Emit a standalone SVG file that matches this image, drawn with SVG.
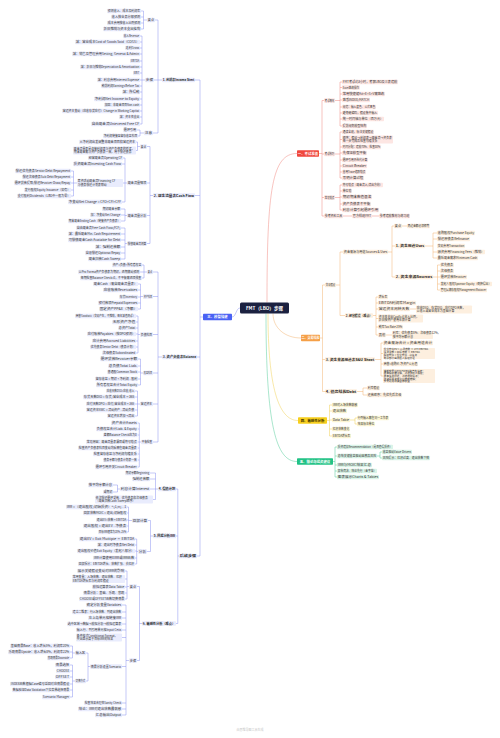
<svg xmlns="http://www.w3.org/2000/svg" width="500" height="738" viewBox="0 0 500 738">
<style>
.t{font-family:"Noto Sans CJK SC","Noto Sans",sans-serif;font-size:2.9px;fill:#333}
.tb{font-family:"Noto Sans CJK SC","Noto Sans",sans-serif;font-size:3px;font-weight:bold;fill:#222}
.m{font-size:2.6px}
.lb{fill:#e9ecfd}.lr{fill:#fde6e3}.lo{fill:#fdefdf}.ly{fill:#fcf5d3}.lg{fill:#daf4e8}
rect{rx:0.8px}
.c{fill:none;stroke-width:0.45}
.cb{stroke:#7d87ef}.cr{stroke:#f07c72}.co{stroke:#f2ad62}.cy{stroke:#efcc40}.cg{stroke:#41c690}
.rt{font-family:"Noto Sans CJK SC","Noto Sans",sans-serif;font-size:3.4px;font-weight:bold;text-anchor:middle}
</style>
<rect x="0" y="0" width="500" height="738" fill="#ffffff" style="rx:0"/>
<g id="connectors">
<path class="c cb" d="M232 317C236 317 236 308 240 308 M203 317H200 M200 80V556 M195 80H200 M195 195.5H200 M197 357H200 M197 556H200
M162 80H158 M158 20V133 M155 20H158 M154 80H158 M153 133H158
M147 20H143.5 M143.5 11V29 M141 11H143.5 M141 17H143.5 M141 23H143.5 M141 29H143.5
M145 80H142 M142 36V124 M140 36H142 M140 42H142 M140 48H142 M140 54H142 M140 61H142 M140 67H142 M140 73H142 M140 80H142 M140 86H142 M140 92H142 M140 99H142 M140 105H142 M140 111H142 M140 117H142 M140 124H142
M144 133H140 M140 130V136 M137 130H140 M138 136H140
M153 195.5H150 M150 146.5V243.5 M147 146.5H150 M147 183H150 M147 215.5H150 M147 243.5H150
M140 146.5H137.5 M137.5 142V150.5 M136 142H137.5 M136 150.5H137.5
M127 183H125 M125 158V202 M123 158H125 M122 164H125 M123 183H125 M122 202H125
M77 183H73.5 M73.5 171V196 M71 171H73.5 M71 177H73.5 M71 183H73.5 M71 190H73.5 M71 196H73.5
M127 215.5H125 M125 209V221 M121 209H125 M121 215H125 M121 221H125
M127 243.5H125 M125 228V259 M121 228H125 M121 234H125 M121 240H125 M121 247H125 M121 253H125 M121 259H125
M162 357H158 M158 272V442 M153 272H158 M153 296.5H158 M153 334.5H158 M153 373H158 M153 404H158 M153 442H158
M147 272H144 M144 265V278 M142 265H144 M140 272H144 M142 278H144
M143 296.5H140.5 M140.5 284V309 M138 284H140.5 M138 290H140.5 M138 297H140.5 M138 303H140.5 M138 309H140.5
M140 334.5H138 M138 316V353 M136 316H138 M136 322H138 M136 328H138 M136 334H138 M136 341H138 M136 347H138 M136 353H138
M143 373H140.5 M140.5 359V385 M138 359H140.5 M138 366H140.5 M138 372H140.5 M138 379H140.5 M138 385H140.5
M140 404H137.5 M137.5 391V416 M135 391H137.5 M135 397H137.5 M135 404H137.5 M135 410H137.5 M135 416H137.5
M141 442H139.3 M139.3 423V467 M137.5 423H139.3 M137.5 429H139.3 M137.5 435H139.3 M137.5 442H139.3 M137.5 448H139.3 M137.5 454H139.3 M137.5 460H139.3 M137.5 467H139.3
M179 556H177.8 M177.8 489V623.5 M176 489H177.8 M176 536H177.8 M176 623.5H177.8
M158 489H155.5 M155.5 473V499.5 M150 473H155.5 M150 479H155.5 M150 489H155.5 M153 499.5H155.5
M120 489H117.5 M117.5 485V492 M113 485H117.5 M113 492H117.5
M153 536H150.5 M150.5 520.5V551.5 M148 520.5H150.5 M147 551.5H150.5
M132 520.5H128.5 M128.5 507V532 M127 507H128.5 M127 513H128.5 M127 520H128.5 M127 526H128.5 M127 532H128.5
M138 551.5H136.7 M136.7 539V564 M135 539H136.7 M135 545H136.7 M135 551H136.7 M135 558H136.7 M135 564H136.7
M142 623.5H139.5 M139.5 586.5V660.5 M137 586.5H139.5 M137 660.5H139.5
M129 586.5H127 M127 571V599 M125 571H127 M125 579H127 M125 587H127 M125 593H127 M125 599H127
M129 660.5H126 M126 605V715 M122 605H126 M122 612H126 M122 618H126 M122 624H126 M122 630H126 M122 637.5H126 M122 666.5H126 M122 703H126 M122 709H126 M122 715H126
M90 666.5H88 M88 653V681 M86 653H88 M86 681H88
M75 653H72.5 M72.5 646V658 M70 646H72.5 M70 652H72.5 M70 658H72.5
M75 681H72.5 M72.5 665V697 M70 665H72.5 M70 671H72.5 M70 677H72.5 M70 684H72.5 M70 690H72.5 M70 697H72.5"/>
<path class="c cr" d="M267 302.5C267 190 272 153.5 297 153.5 M319 153.5H322 M322 100.5V216 M322 100.5H324 M322 154H324 M322 197.5H324 M322 216H324
M335 100.5H340 M340 82V126 M340 82H342 M340 87.5H342 M340 94H342 M340 100H342 M340 107H342 M340 113H342 M340 119H342 M340 126H342
M335 154H340 M340 132V178 M340 132H342 M340 139.5H342 M340 147H342 M340 153H342 M340 160H342 M340 166H342 M340 172H342 M340 178H342
M335 197.5H340 M340 185V210 M340 185H342 M340 191H342 M340 197H342 M340 204H342 M340 210H342
M343 216H352 M372 216H379"/>
<path class="c co" d="M273 313.5C273 328 285 338 301 338 M320 338H322.5 M322.5 285V391.5 M322.5 285H325 M322.5 359.5H325 M322.5 391.5H325
M336 285H340 M340 252V315.5 M340 252H343 M340 315.5H345
M388 252H392 M392 226V277 M392 226H394 M392 246H395 M392 277H395 M402 226H407
M425 246H433 M433 233V258 M433 233H437 M433 239H437 M433 252H437 M433 258H437
M433 277H437.5 M437.5 265V290 M437.5 265H440 M437.5 271H440 M437.5 277H440 M437.5 284H440 M437.5 290H440
M373 315.5H376 M376 297V335 M376 297H378 M376 303H378 M376 309H378 M376 318.5H378 M376 327H378 M376 335H378 M410 309H416 M386 335H392
M375 359.5H381 M381 343V376 M381 343H383 M381 353.5H383 M381 364H383 M381 376H383
M357 391.5H363 M363 388V395 M363 388H367 M363 395H367"/>
<path class="c cy" d="M268 313.5C268 385 278 420.5 298 420.5 M327 420.5H329.5 M329.5 405V436 M329.5 405H332 M329.5 411H332 M329.5 420H332 M329.5 429H332 M329.5 436H332 M350 420H355 M355 418V424 M355 418H357 M355 424H357"/>
<path class="c cg" d="M266 313.5C266 425 276 461.5 297 461.5 M333 461.5H335 M335 447V477 M335 447H337 M335 456H337 M335 465H337 M335 471H337 M335 477H337 M377 456H380 M380 452V458 M380 452H382 M380 458H382"/>
</g>

<g id="center"><rect x="240" y="302.5" width="49" height="11" fill="#1b2140" style="rx:1.5px"/><text x="264.5" y="309.6" text-anchor="middle" font-family="Noto Sans CJK SC, Noto Sans, sans-serif" font-size="4.6" font-weight="bold" fill="#fff">FMT（LBO）步骤</text></g>

<g id="b0"><rect x="203" y="313.7" width="29" height="6.6" fill="#4a62f4"/><text class="rt" x="217.5" y="318.3" fill="#fff">三、模型搭建</text></g>
<g id="r0"><rect x="297" y="150.2" width="22" height="6.6" fill="#f0473d"/><text class="rt" x="308" y="154.8" fill="#fff">一、考试准备</text></g>
<g id="o0"><rect x="301" y="334.7" width="19" height="6.6" fill="#f5a048"/><text class="rt" x="310.5" y="339.2" fill="#fff" style="font-size:3px">二、交易结构</text></g>
<g id="y0"><rect x="298" y="417.2" width="29" height="6.6" fill="#f7cf1e"/><text class="rt" x="312.5" y="421.8" fill="#3a2f00">四、敏感性分析</text></g>
<g id="g0"><rect x="297" y="458.2" width="36" height="6.6" fill="#22c285"/><text class="rt" x="315" y="462.8" fill="#fff">五、结论与投资建议</text></g>

<g id="b1"><rect class="lb" x="162" y="77.7" width="33" height="4.6"/><text class="tb" x="162.8" y="81" textLength="31.4" lengthAdjust="spacingAndGlyphs">1. 利润表Income Stmt</text></g>
<g id="b1a"><rect class="lb" x="147" y="17.7" width="8" height="4.6"/><text class="t" x="147.8" y="21" textLength="6.4" lengthAdjust="spacingAndGlyphs">要点</text></g>
<g id="b1b"><rect class="lb" x="145" y="77.7" width="9" height="4.6"/><text class="t" x="145.8" y="81" textLength="7.4" lengthAdjust="spacingAndGlyphs">步骤</text></g>
<g id="b1c"><rect class="lb" x="144" y="130.7" width="9" height="4.6"/><text class="t" x="144.8" y="134" textLength="7.4" lengthAdjust="spacingAndGlyphs">注意</text></g>
<g id="b1a1"><rect class="lb" x="107" y="8.7" width="34" height="4.6"/><text class="t" x="107.8" y="12" textLength="32.4" lengthAdjust="spacingAndGlyphs">预测收入、成本及利润率</text></g>
<g id="b1a2"><rect class="lb" x="111" y="14.7" width="30" height="4.6"/><text class="t" x="111.8" y="18" textLength="28.4" lengthAdjust="spacingAndGlyphs">收入按业务分部预测</text></g>
<g id="b1a3"><rect class="lb" x="107" y="20.7" width="34" height="4.6"/><text class="t" x="107.8" y="24" textLength="32.4" lengthAdjust="spacingAndGlyphs">成本费用按收入比例预测</text></g>
<g id="b1a4"><rect class="lb" x="103" y="26.7" width="38" height="4.6"/><text class="t" x="103.8" y="30" textLength="36.4" lengthAdjust="spacingAndGlyphs">折旧摊销与资本支出挂钩</text></g>
<g id="b1b1"><rect class="lb" x="123" y="33.7" width="17" height="4.6"/><text class="t" x="123.8" y="37" textLength="15.4" lengthAdjust="spacingAndGlyphs">收入Revenue</text></g>
<g id="b1b2"><rect class="lb" x="75" y="39.7" width="65" height="4.6"/><text class="t" x="75.8" y="43" textLength="63.4" lengthAdjust="spacingAndGlyphs">减：营业成本Cost of Goods Sold（COGS）</text></g>
<g id="b1b3"><rect class="lb" x="125" y="45.7" width="15" height="4.6"/><text class="t" x="125.8" y="49" textLength="13.4" lengthAdjust="spacingAndGlyphs">毛利Gross</text></g>
<g id="b1b4"><rect class="lb" x="72" y="51.7" width="68" height="4.6"/><text class="t" x="72.8" y="55" textLength="66.4" lengthAdjust="spacingAndGlyphs">减：销售及管理费用Selling, General &amp; Admin</text></g>
<g id="b1b5"><rect class="lb" x="130" y="58.7" width="10" height="4.6"/><text class="t" x="130.8" y="62" textLength="8.4" lengthAdjust="spacingAndGlyphs">EBITDA</text></g>
<g id="b1b6"><rect class="lb" x="80" y="64.7" width="60" height="4.6"/><text class="t" x="80.8" y="68" textLength="58.4" lengthAdjust="spacingAndGlyphs">减：折旧与摊销Depreciation &amp; Amortization</text></g>
<g id="b1b7"><rect class="lb" x="133" y="70.7" width="7" height="4.6"/><text class="t" x="133.8" y="74" textLength="5.4" lengthAdjust="spacingAndGlyphs">EBIT</text></g>
<g id="b1b8"><rect class="lb" x="97" y="77.7" width="43" height="4.6"/><text class="t" x="97.8" y="81" textLength="41.4" lengthAdjust="spacingAndGlyphs">减：利息费用Interest Expense</text></g>
<g id="b1b9"><rect class="lb" x="101" y="83.7" width="39" height="4.6"/><text class="t" x="101.8" y="87" textLength="37.4" lengthAdjust="spacingAndGlyphs">税前利润Earnings Before Tax</text></g>
<g id="b1b10"><rect class="lb" x="122" y="89.7" width="18" height="4.6"/><text class="t" x="122.8" y="93" textLength="16.4" lengthAdjust="spacingAndGlyphs">减：所得税</text></g>
<g id="b1b11"><rect class="lb" x="94" y="96.7" width="46" height="4.6"/><text class="t" x="94.8" y="100" textLength="44.4" lengthAdjust="spacingAndGlyphs">净利润Net Income to Equity</text></g>
<g id="b1b12"><rect class="lb" x="104" y="102.7" width="36" height="4.6"/><text class="t" x="104.8" y="106" textLength="34.4" lengthAdjust="spacingAndGlyphs">加回：非现金项目Non-cash</text></g>
<g id="b1b13"><rect class="lb" x="62" y="108.7" width="78" height="4.6"/><text class="t" x="62.8" y="112" textLength="76.4" lengthAdjust="spacingAndGlyphs">营运资本变动（应收存货应付）Change in Working Capital</text></g>
<g id="b1b14"><rect class="lb" x="119" y="114.7" width="21" height="4.6"/><text class="t" x="119.8" y="118" textLength="19.4" lengthAdjust="spacingAndGlyphs">减：资本性支出</text></g>
<g id="b1b15"><rect class="lb" x="91" y="121.7" width="49" height="4.6"/><text class="t" x="91.8" y="125" textLength="47.4" lengthAdjust="spacingAndGlyphs">自由现金流Unlevered Free CF</text></g>
<g id="b1c1"><rect class="lb" x="123" y="127.7" width="14" height="4.6"/><text class="t" x="123.8" y="131" textLength="12.4" lengthAdjust="spacingAndGlyphs">循环引用</text></g>
<g id="b1c2"><rect class="lb" x="103" y="133.7" width="35" height="4.6"/><text class="t" x="103.8" y="137" textLength="33.4" lengthAdjust="spacingAndGlyphs">净利润链接至留存收益科目</text></g>

<g id="b2"><rect class="lb" x="153" y="193.2" width="42" height="4.6"/><text class="tb" x="153.8" y="196.5" textLength="40.4" lengthAdjust="spacingAndGlyphs">2. 现金流量表Cash Flow</text></g>
<g id="b2a"><rect class="lb" x="140" y="144.2" width="7" height="4.6"/><text class="t" x="140.8" y="147.5" textLength="5.4" lengthAdjust="spacingAndGlyphs">要点</text></g>
<g id="b2b"><rect class="lb" x="127" y="180.7" width="20" height="4.6"/><text class="t" x="127.8" y="184" textLength="18.4" lengthAdjust="spacingAndGlyphs">现金流量细项</text></g>
<g id="b2c"><rect class="lb" x="127" y="213.2" width="20" height="4.6"/><text class="t" x="127.8" y="216.5" textLength="18.4" lengthAdjust="spacingAndGlyphs">现金流量分析</text></g>
<g id="b2d"><rect class="lb" x="127" y="241.2" width="20" height="4.6"/><text class="t" x="127.8" y="244.5" textLength="18.4" lengthAdjust="spacingAndGlyphs">偿债现金流测算</text></g>
<g id="b2a1"><rect class="lb" x="79" y="139.7" width="57" height="4.6"/><text class="t" x="79.8" y="143" textLength="55.4" lengthAdjust="spacingAndGlyphs">从净利润出发调整非现金项目和营运资本</text></g>
<g id="b2a2"><rect class="lb" x="73" y="146.5" width="63" height="8"/><text class="t"><tspan x="73.8" y="149.9">现金流量表是连接利润表与资产负债表的桥梁，</tspan><tspan x="73.8" y="153.3">期末现金需与资产负债表一致，用于偿还债务</tspan></text></g>
<g id="b2b1"><rect class="lb" x="88" y="155.7" width="35" height="4.6"/><text class="t" x="88.8" y="159" textLength="33.4" lengthAdjust="spacingAndGlyphs">经营现金流Operating CF</text></g>
<g id="b2b2"><rect class="lb" x="73" y="161.7" width="49" height="4.6"/><text class="t" x="73.8" y="165" textLength="47.4" lengthAdjust="spacingAndGlyphs">投资现金流Investing Cash Flow</text></g>
<g id="b2b3"><rect class="lb" x="77" y="179" width="46" height="8"/><text class="t"><tspan x="77.8" y="182.4">筹资活动现金流Financing CF</tspan><tspan x="77.8" y="185.8">与债务偿还计划表联动</tspan></text></g>
<g id="b2b4"><rect class="lb" x="68" y="199.7" width="54" height="4.6"/><text class="t" x="68.8" y="203" textLength="52.4" lengthAdjust="spacingAndGlyphs">净变动Net Change = CFO+CFI+CFF</text></g>
<g id="b2b3a"><rect class="lb" x="15" y="168.7" width="56" height="4.6"/><text class="t" x="15.8" y="172" textLength="54.4" lengthAdjust="spacingAndGlyphs">偿还优先债务Senior Debt Repayment</text></g>
<g id="b2b3b"><rect class="lb" x="22" y="174.7" width="49" height="4.6"/><text class="t" x="22.8" y="178" textLength="47.4" lengthAdjust="spacingAndGlyphs">偿还次级债务Sub Debt Repayment</text></g>
<g id="b2b3c"><rect class="lb" x="14" y="180.7" width="57" height="4.6"/><text class="t" x="14.8" y="184" textLength="55.4" lengthAdjust="spacingAndGlyphs">循环贷款提取/偿还Revolver Draw/Repay</text></g>
<g id="b2b3d"><rect class="lb" x="24" y="187.7" width="47" height="4.6"/><text class="t" x="24.8" y="191" textLength="45.4" lengthAdjust="spacingAndGlyphs">发行股权Equity Issuance（如有）</text></g>
<g id="b2b3e"><rect class="lb" x="17" y="193.7" width="54" height="4.6"/><text class="t" x="17.8" y="197" textLength="52.4" lengthAdjust="spacingAndGlyphs">支付股利Dividends（LBO中一般为零）</text></g>
<g id="b2c1"><rect class="lb" x="102" y="206.7" width="19" height="4.6"/><text class="t" x="102.8" y="210" textLength="17.4" lengthAdjust="spacingAndGlyphs">期初现金余额</text></g>
<g id="b2c2"><rect class="lb" x="90" y="212.7" width="31" height="4.6"/><text class="t" x="90.8" y="216" textLength="29.4" lengthAdjust="spacingAndGlyphs">加：净变动Net Change</text></g>
<g id="b2c3"><rect class="lb" x="68" y="218.7" width="53" height="4.6"/><text class="t" x="68.8" y="222" textLength="51.4" lengthAdjust="spacingAndGlyphs">期末现金Ending Cash（链接资产负债表）</text></g>
<g id="b2d1"><rect class="lb" x="76" y="225.7" width="45" height="4.6"/><text class="t" x="76.8" y="229" textLength="43.4" lengthAdjust="spacingAndGlyphs">自由现金流Free Cash Flow(FCF)</text></g>
<g id="b2d2"><rect class="lb" x="68" y="231.7" width="53" height="4.6"/><text class="t" x="68.8" y="235" textLength="51.4" lengthAdjust="spacingAndGlyphs">减：最低现金Min. Cash Requirement</text></g>
<g id="b2d3"><rect class="lb" x="68" y="237.7" width="53" height="4.6"/><text class="t" x="68.8" y="241" textLength="51.4" lengthAdjust="spacingAndGlyphs">可偿债现金Cash Available for Debt</text></g>
<g id="b2d4"><rect class="lb" x="95" y="244.7" width="26" height="4.6"/><text class="t" x="95.8" y="248" textLength="24.4" lengthAdjust="spacingAndGlyphs">减：强制还款额</text></g>
<g id="b2d5"><rect class="lb" x="85" y="250.7" width="36" height="4.6"/><text class="t" x="85.8" y="254" textLength="34.4" lengthAdjust="spacingAndGlyphs">自愿偿还Optional Repay</text></g>
<g id="b2d6"><rect class="lb" x="88" y="256.7" width="33" height="4.6"/><text class="t" x="88.8" y="260" textLength="31.4" lengthAdjust="spacingAndGlyphs">现金扫款Cash Sweep</text></g>

<g id="b3"><rect class="lb" x="162" y="354.7" width="35" height="4.6"/><text class="tb" x="162.8" y="358" textLength="33.4" lengthAdjust="spacingAndGlyphs">3. 资产负债表Balance</text></g>
<g id="b3a"><rect class="lb" x="147" y="269.7" width="6" height="4.6"/><text class="t" x="147.8" y="273" textLength="4.4" lengthAdjust="spacingAndGlyphs">要点</text></g>
<g id="b3b"><rect class="lb" x="143" y="294.2" width="10" height="4.6"/><text class="t" x="143.8" y="297.5" textLength="8.4" lengthAdjust="spacingAndGlyphs">资产科目</text></g>
<g id="b3c"><rect class="lb" x="140" y="332.2" width="13" height="4.6"/><text class="t" x="140.8" y="335.5" textLength="11.4" lengthAdjust="spacingAndGlyphs">负债科目</text></g>
<g id="b3d"><rect class="lb" x="143" y="370.7" width="10" height="4.6"/><text class="t" x="143.8" y="374" textLength="8.4" lengthAdjust="spacingAndGlyphs">权益科目</text></g>
<g id="b3e"><rect class="lb" x="140" y="401.7" width="13" height="4.6"/><text class="t" x="140.8" y="405" textLength="11.4" lengthAdjust="spacingAndGlyphs">营运资本</text></g>
<g id="b3f"><rect class="lb" x="141" y="439.7" width="12" height="4.6"/><text class="t" x="141.8" y="443" textLength="10.4" lengthAdjust="spacingAndGlyphs">平衡检查</text></g>
<g id="b3a1"><rect class="lb" x="112" y="262.7" width="30" height="4.6"/><text class="t" x="112.8" y="266" textLength="28.4" lengthAdjust="spacingAndGlyphs">资产=负债+所有者权益</text></g>
<g id="b3a2"><rect class="lb" x="78" y="269.7" width="62" height="4.6"/><text class="t" x="78.8" y="273" textLength="60.4" lengthAdjust="spacingAndGlyphs">以Pro Forma资产负债表为期初，逐期滚动预测</text></g>
<g id="b3a3"><rect class="lb" x="80" y="275.7" width="62" height="4.6"/><text class="t" x="80.8" y="279" textLength="60.4" lengthAdjust="spacingAndGlyphs">每期检查Balance Check=0，不平衡需逐项排查</text></g>
<g id="b3b1"><rect class="lb" x="93" y="281.7" width="45" height="4.6"/><text class="t" x="93.8" y="285" textLength="43.4" lengthAdjust="spacingAndGlyphs">现金Cash（来自现金流量表）</text></g>
<g id="b3b2"><rect class="lb" x="103" y="287.7" width="35" height="4.6"/><text class="t" x="103.8" y="291" textLength="33.4" lengthAdjust="spacingAndGlyphs">应收账款Receivables</text></g>
<g id="b3b3"><rect class="lb" x="119" y="294.7" width="19" height="4.6"/><text class="t" x="119.8" y="298" textLength="17.4" lengthAdjust="spacingAndGlyphs">存货Inventory</text></g>
<g id="b3b4"><rect class="lb" x="98" y="300.7" width="40" height="4.6"/><text class="t" x="98.8" y="304" textLength="38.4" lengthAdjust="spacingAndGlyphs">预付款项Prepaid Expenses</text></g>
<g id="b3b5"><rect class="lb" x="99" y="306.7" width="39" height="4.6"/><text class="t" x="99.8" y="310" textLength="37.4" lengthAdjust="spacingAndGlyphs">固定资产PP&amp;E（净额）</text></g>
<g id="b3c1"><rect class="lb" x="75" y="313.7" width="61" height="4.6"/><text class="t" x="75.8" y="317" textLength="59.4" lengthAdjust="spacingAndGlyphs">商誉Goodwill（交易产生，不摊销，每年减值测试）</text></g>
<g id="b3c2"><rect class="lb" x="112" y="319.7" width="24" height="4.6"/><text class="t" x="112.8" y="323" textLength="22.4" lengthAdjust="spacingAndGlyphs">无形资产净值</text></g>
<g id="b3c3"><rect class="lb" x="118" y="325.7" width="18" height="4.6"/><text class="t" x="118.8" y="329" textLength="16.4" lengthAdjust="spacingAndGlyphs">总资产Total</text></g>
<g id="b3c4"><rect class="lb" x="87" y="331.7" width="49" height="4.6"/><text class="t" x="87.8" y="335" textLength="47.4" lengthAdjust="spacingAndGlyphs">应付账款Payables（按DPO预测）</text></g>
<g id="b3c5"><rect class="lb" x="92" y="338.7" width="44" height="4.6"/><text class="t" x="92.8" y="342" textLength="42.4" lengthAdjust="spacingAndGlyphs">应计费用Accrued Liabilities</text></g>
<g id="b3c6"><rect class="lb" x="90" y="344.7" width="46" height="4.6"/><text class="t" x="90.8" y="348" textLength="44.4" lengthAdjust="spacingAndGlyphs">优先债务Senior Debt（债务计划）</text></g>
<g id="b3c7"><rect class="lb" x="102" y="350.7" width="34" height="4.6"/><text class="t" x="102.8" y="354" textLength="32.4" lengthAdjust="spacingAndGlyphs">次级债务Subordinated</text></g>
<g id="b3d1"><rect class="lb" x="100" y="356.7" width="38" height="4.6"/><text class="t" x="100.8" y="360" textLength="36.4" lengthAdjust="spacingAndGlyphs">循环贷款Revolver余额</text></g>
<g id="b3d2"><rect class="lb" x="108" y="363.7" width="30" height="4.6"/><text class="t" x="108.8" y="367" textLength="28.4" lengthAdjust="spacingAndGlyphs">总负债Total Liab.</text></g>
<g id="b3d3"><rect class="lb" x="107" y="369.7" width="31" height="4.6"/><text class="t" x="107.8" y="373" textLength="29.4" lengthAdjust="spacingAndGlyphs">普通股Common Stock</text></g>
<g id="b3d4"><rect class="lb" x="95" y="376.7" width="43" height="4.6"/><text class="t" x="95.8" y="380" textLength="41.4" lengthAdjust="spacingAndGlyphs">留存收益 = 期初 + 净利润 - 股利</text></g>
<g id="b3d5"><rect class="lb" x="96" y="382.7" width="42" height="4.6"/><text class="t" x="96.8" y="386" textLength="40.4" lengthAdjust="spacingAndGlyphs">所有者权益合计Total Equity</text></g>
<g id="b3e1"><rect class="lb" x="106" y="388.7" width="29" height="4.6"/><text class="t" x="106.8" y="392" textLength="27.4" lengthAdjust="spacingAndGlyphs">应收天数DSO=应收/收入</text></g>
<g id="b3e2"><rect class="lb" x="83" y="394.7" width="52" height="4.6"/><text class="t" x="83.8" y="398" textLength="50.4" lengthAdjust="spacingAndGlyphs">存货天数DIO = 存货/营业成本×365</text></g>
<g id="b3e3"><rect class="lb" x="86" y="401.7" width="49" height="4.6"/><text class="t" x="86.8" y="405" textLength="47.4" lengthAdjust="spacingAndGlyphs">应付天数DPO = 应付/营业成本×365</text></g>
<g id="b3e4"><rect class="lb" x="86" y="407.7" width="49" height="4.6"/><text class="t" x="86.8" y="411" textLength="47.4" lengthAdjust="spacingAndGlyphs">营运资本NWC = 流动资产 - 流动负债</text></g>
<g id="b3e5"><rect class="lb" x="107" y="413.7" width="28" height="4.6"/><text class="t" x="107.8" y="417" textLength="26.4" lengthAdjust="spacingAndGlyphs">营运资本增加→流出</text></g>
<g id="b3f1"><rect class="lb" x="111" y="420.7" width="26.5" height="4.6"/><text class="t" x="111.8" y="424" textLength="24.9" lengthAdjust="spacingAndGlyphs">资产合计Assets</text></g>
<g id="b3f2"><rect class="lb" x="96" y="426.7" width="41.5" height="4.6"/><text class="t" x="96.8" y="430" textLength="39.9" lengthAdjust="spacingAndGlyphs">负债权益合计Liab. &amp; Equity</text></g>
<g id="b3f3"><rect class="lb" x="103" y="432.7" width="34.5" height="4.6"/><text class="t" x="103.8" y="436" textLength="32.9" lengthAdjust="spacingAndGlyphs">差额Balance Check应为0</text></g>
<g id="b3f4"><rect class="lb" x="86" y="439.7" width="51.5" height="4.6"/><text class="t" x="86.8" y="443" textLength="49.9" lengthAdjust="spacingAndGlyphs">常见原因：现金流量表漏项或符号错误</text></g>
<g id="b3f5"><rect class="lb" x="78" y="445.7" width="59.5" height="4.6"/><text class="t" x="78.8" y="449" textLength="57.9" lengthAdjust="spacingAndGlyphs">检查资产负债表科目变动均反映在现金流量表</text></g>
<g id="b3f6"><rect class="lb" x="93" y="451.7" width="44.5" height="4.6"/><text class="t" x="93.8" y="455" textLength="42.9" lengthAdjust="spacingAndGlyphs">检查留存收益与净利润勾稽关系</text></g>
<g id="b3f7"><rect class="lb" x="103" y="457.7" width="34.5" height="4.6"/><text class="t" x="103.8" y="461" textLength="32.9" lengthAdjust="spacingAndGlyphs">债务余额与债务计划表一致</text></g>
<g id="b3f8"><rect class="lb" x="95" y="464.7" width="42.5" height="4.6"/><text class="t" x="95.8" y="468" textLength="40.9" lengthAdjust="spacingAndGlyphs">循环引用开关Circuit Breaker</text></g>

<g id="b4"><rect class="lb" x="179" y="553.7" width="18" height="4.6"/><text class="tb" x="179.8" y="557" textLength="16.4" lengthAdjust="spacingAndGlyphs">后续步骤</text></g>
<g id="b4a"><rect class="lb" x="158" y="486.7" width="18" height="4.6"/><text class="tb" x="158.8" y="490" textLength="16.4" lengthAdjust="spacingAndGlyphs">4. 偿债计划</text></g>
<g id="b4b"><rect class="lb" x="153" y="533.7" width="23" height="4.6"/><text class="tb" x="153.8" y="537" textLength="21.4" lengthAdjust="spacingAndGlyphs">5. 回报分析IRR</text></g>
<g id="b4c"><rect class="lb" x="142" y="621.2" width="34" height="4.6"/><text class="tb" x="142.8" y="624.5" textLength="32.4" lengthAdjust="spacingAndGlyphs">6. 敏感性分析（难点）</text></g>
<g id="b4a1"><rect class="lb" x="125" y="470.7" width="25" height="4.6"/><text class="t" x="125.8" y="474" textLength="23.4" lengthAdjust="spacingAndGlyphs">期初余额Beginning</text></g>
<g id="b4a2"><rect class="lb" x="132" y="476.7" width="18" height="4.6"/><text class="t" x="132.8" y="480" textLength="16.4" lengthAdjust="spacingAndGlyphs">强制还款额</text></g>
<g id="b4a3"><rect class="lb" x="120" y="486.7" width="30" height="4.6"/><text class="t" x="120.8" y="490" textLength="28.4" lengthAdjust="spacingAndGlyphs">利息计算Interest</text></g>
<g id="b4a3a"><rect class="lb" x="88" y="482.7" width="25" height="4.6"/><text class="t" x="88.8" y="486" textLength="23.4" lengthAdjust="spacingAndGlyphs">按平均余额计息</text></g>
<g id="b4a3b"><rect class="lb" x="103" y="489.7" width="10" height="4.6"/><text class="t" x="103.8" y="493" textLength="8.4" lengthAdjust="spacingAndGlyphs">或期初</text></g>
<g id="b4a4"><rect class="lb" x="95" y="495.5" width="58" height="8"/><text class="t"><tspan x="95.8" y="498.9">依次偿还循环贷款、优先债务和次级债务</tspan><tspan x="95.8" y="502.3">（现金扫款Cash Sweep顺序）</tspan></text></g>
<g id="b4b1"><rect class="lb" x="132" y="518.2" width="16" height="4.6"/><text class="t" x="132.8" y="521.5" textLength="14.4" lengthAdjust="spacingAndGlyphs">回报计算</text></g>
<g id="b4b2"><rect class="lb" x="138" y="549.2" width="9" height="4.6"/><text class="t" x="138.8" y="552.5" textLength="7.4" lengthAdjust="spacingAndGlyphs">分析</text></g>
<g id="b4b1a"><rect class="lb" x="66" y="504.7" width="61" height="4.6"/><text class="t" x="66.8" y="508" textLength="59.4" lengthAdjust="spacingAndGlyphs">IRR =（退出股权/初始投资）^(1/n) - 1</text></g>
<g id="b4b1b"><rect class="lb" x="83" y="510.7" width="44" height="4.6"/><text class="t" x="83.8" y="514" textLength="42.4" lengthAdjust="spacingAndGlyphs">回报倍数MOIC = 退出/初始股权</text></g>
<g id="b4b1c"><rect class="lb" x="96" y="517.7" width="31" height="4.6"/><text class="t" x="96.8" y="521" textLength="29.4" lengthAdjust="spacingAndGlyphs">退出EV=倍数×EBITDA</text></g>
<g id="b4b1d"><rect class="lb" x="83" y="523.7" width="44" height="4.6"/><text class="t" x="83.8" y="527" textLength="42.4" lengthAdjust="spacingAndGlyphs">退出股权 = 退出EV - 净债务</text></g>
<g id="b4b1e"><rect class="lb" x="98" y="529.7" width="29" height="4.6"/><text class="t" x="98.8" y="533" textLength="27.4" lengthAdjust="spacingAndGlyphs">目标IRR通常为20%–25%</text></g>
<g id="b4b2a"><rect class="lb" x="79" y="536.7" width="56" height="4.6"/><text class="t" x="79.8" y="540" textLength="54.4" lengthAdjust="spacingAndGlyphs">退出EV = Exit Multiple × EBITDA</text></g>
<g id="b4b2b"><rect class="lb" x="97" y="542.7" width="38" height="4.6"/><text class="t" x="97.8" y="546" textLength="36.4" lengthAdjust="spacingAndGlyphs">减：退出时净债务Net Debt</text></g>
<g id="b4b2c"><rect class="lb" x="77" y="548.7" width="58" height="4.6"/><text class="t" x="77.8" y="552" textLength="56.4" lengthAdjust="spacingAndGlyphs">退出股权价值Exit Equity（发起人部分）</text></g>
<g id="b4b2d"><rect class="lb" x="93" y="555.7" width="42" height="4.6"/><text class="t" x="93.8" y="559" textLength="40.4" lengthAdjust="spacingAndGlyphs">IRR计算使用XIRR或IRR函数</text></g>
<g id="b4b2e"><rect class="lb" x="78" y="561.7" width="57" height="4.6"/><text class="t" x="78.8" y="565" textLength="55.4" lengthAdjust="spacingAndGlyphs">回报拆分：EBITDA增长、倍数扩张、去杠杆</text></g>
<g id="b4c1"><rect class="lb" x="129" y="584.2" width="8" height="4.6"/><text class="t" x="129.8" y="587.5" textLength="6.4" lengthAdjust="spacingAndGlyphs">要点</text></g>
<g id="b4c2"><rect class="lb" x="129" y="658.2" width="8" height="4.6"/><text class="t" x="129.8" y="661.5" textLength="6.4" lengthAdjust="spacingAndGlyphs">步骤</text></g>
<g id="b4c1a"><rect class="lb" x="77" y="568.7" width="48" height="4.6"/><text class="t" x="77.8" y="572" textLength="46.4" lengthAdjust="spacingAndGlyphs">展示关键假设变动对IRR的影响</text></g>
<g id="b4c1b"><rect class="lb" x="72" y="575" width="53" height="8"/><text class="t"><tspan x="72.8" y="578.4">常用变量：入场倍数、退出倍数、杠杆</tspan><tspan x="72.8" y="581.8">EBITDA增长率与利润率假设</tspan></text></g>
<g id="b4c1c"><rect class="lb" x="92" y="584.7" width="33" height="4.6"/><text class="t" x="92.8" y="588" textLength="31.4" lengthAdjust="spacingAndGlyphs">模拟运算表Data Table</text></g>
<g id="b4c1d"><rect class="lb" x="83" y="590.7" width="42" height="4.6"/><text class="t" x="83.8" y="594" textLength="40.4" lengthAdjust="spacingAndGlyphs">情景分析：基础、乐观、悲观</text></g>
<g id="b4c1e"><rect class="lb" x="79" y="596.7" width="46" height="4.6"/><text class="t" x="79.8" y="600" textLength="44.4" lengthAdjust="spacingAndGlyphs">CHOOSE或OFFSET函数切换情景</text></g>
<g id="b4c2a"><rect class="lb" x="86" y="602.7" width="36" height="4.6"/><text class="t" x="86.8" y="606" textLength="34.4" lengthAdjust="spacingAndGlyphs">确定分析变量Variables</text></g>
<g id="b4c2b"><rect class="lb" x="72" y="609.7" width="50" height="4.6"/><text class="t" x="72.8" y="613" textLength="48.4" lengthAdjust="spacingAndGlyphs">建立二维表：行入场倍数、列退出倍数</text></g>
<g id="b4c2c"><rect class="lb" x="88" y="615.7" width="34" height="4.6"/><text class="t" x="88.8" y="619" textLength="32.4" lengthAdjust="spacingAndGlyphs">左上角单元格链接IRR</text></g>
<g id="b4c2d"><rect class="lb" x="67" y="621.7" width="55" height="4.6"/><text class="t" x="67.8" y="625" textLength="53.4" lengthAdjust="spacingAndGlyphs">选中区域→数据→模拟分析→模拟运算表</text></g>
<g id="b4c2e"><rect class="lb" x="76" y="627.7" width="46" height="4.6"/><text class="t" x="76.8" y="631" textLength="44.4" lengthAdjust="spacingAndGlyphs">输入行、列引用单元格Input Cells</text></g>
<g id="b4c2f"><rect class="lb" x="76" y="633.5" width="46" height="8"/><text class="t"><tspan x="76.8" y="636.9">条件格式Conditional Format，</tspan><tspan x="76.8" y="640.3">突出显示高于目标IRR的结果</tspan></text></g>
<g id="b4c2g"><rect class="lb" x="90" y="664.2" width="32" height="4.6"/><text class="t" x="90.8" y="667.5" textLength="30.4" lengthAdjust="spacingAndGlyphs">情景分析设置Scenario</text></g>
<g id="b4c2h"><rect class="lb" x="84" y="700.7" width="38" height="4.6"/><text class="t" x="84.8" y="704" textLength="36.4" lengthAdjust="spacingAndGlyphs">检查结果合理性Sanity Check</text></g>
<g id="b4c2i"><rect class="lb" x="78" y="706.7" width="44" height="4.6"/><text class="t" x="78.8" y="710" textLength="42.4" lengthAdjust="spacingAndGlyphs">结论：IRR对退出倍数最敏感</text></g>
<g id="b4c2j"><rect class="lb" x="95" y="712.7" width="27" height="4.6"/><text class="t" x="95.8" y="716" textLength="25.4" lengthAdjust="spacingAndGlyphs">汇总输出Output</text></g>
<g id="s1"><rect class="lb" x="75" y="650.7" width="11" height="4.6"/><text class="t" x="75.8" y="654" textLength="9.4" lengthAdjust="spacingAndGlyphs">输入区</text></g>
<g id="s2"><rect class="lb" x="75" y="678.7" width="11" height="4.6"/><text class="t" x="75.8" y="682" textLength="9.4" lengthAdjust="spacingAndGlyphs">切换方式</text></g>
<g id="s1a"><rect class="lb" x="10" y="643.7" width="60" height="4.6"/><text class="t" x="10.8" y="647" textLength="58.4" lengthAdjust="spacingAndGlyphs">基础情景Base：收入增长5%，利润率20%</text></g>
<g id="s1b"><rect class="lb" x="8" y="649.7" width="62" height="4.6"/><text class="t" x="8.8" y="653" textLength="60.4" lengthAdjust="spacingAndGlyphs">乐观情景Upside：收入增长8%，利润率22%</text></g>
<g id="s1c"><rect class="lb" x="47" y="655.7" width="23" height="4.6"/><text class="t" x="47.8" y="659" textLength="21.4" lengthAdjust="spacingAndGlyphs">悲观情景Downside</text></g>
<g id="s2a"><rect class="lb" x="55" y="662.7" width="15" height="4.6"/><text class="t" x="55.8" y="666" textLength="13.4" lengthAdjust="spacingAndGlyphs">情景选择</text></g>
<g id="s2b"><rect class="lb" x="56" y="668.7" width="14" height="4.6"/><text class="t" x="56.8" y="672" textLength="12.4" lengthAdjust="spacingAndGlyphs">CHOOSE</text></g>
<g id="s2c"><rect class="lb" x="55" y="674.7" width="15" height="4.6"/><text class="t" x="55.8" y="678" textLength="13.4" lengthAdjust="spacingAndGlyphs">OFFSET</text></g>
<g id="s2d"><rect class="lb" x="10" y="681.7" width="60" height="4.6"/><text class="t" x="10.8" y="685" textLength="58.4" lengthAdjust="spacingAndGlyphs">INDEX函数根据Case编号返回对应情景假设</text></g>
<g id="s2e"><rect class="lb" x="12" y="687.7" width="58" height="4.6"/><text class="t" x="12.8" y="691" textLength="56.4" lengthAdjust="spacingAndGlyphs">数据验证Data Validation下拉菜单选择情景</text></g>
<g id="s2f"><rect class="lb" x="42" y="694.7" width="28" height="4.6"/><text class="t" x="42.8" y="698" textLength="26.4" lengthAdjust="spacingAndGlyphs">Scenario Manager</text></g>

<g id="r1"><rect class="lr" x="324" y="98.2" width="11" height="4.6"/><text class="t" x="324.8" y="101.5" textLength="9.4" lengthAdjust="spacingAndGlyphs">考试概况</text></g>
<g id="r2"><rect class="lr" x="324" y="151.7" width="11" height="4.6"/><text class="t" x="324.8" y="155" textLength="9.4" lengthAdjust="spacingAndGlyphs">考试技巧</text></g>
<g id="r3"><rect class="lr" x="324" y="195.2" width="11" height="4.6"/><text class="t" x="324.8" y="198.5" textLength="9.4" lengthAdjust="spacingAndGlyphs">常见错误</text></g>
<g id="r4"><rect class="lr" x="324" y="213.7" width="19" height="4.6"/><text class="t" x="324.8" y="217" textLength="17.4" lengthAdjust="spacingAndGlyphs">参考资料工具</text></g>
<g id="r4a"><rect class="lr" x="352" y="213.7" width="20" height="4.6"/><text class="t" x="352.8" y="217" textLength="18.4" lengthAdjust="spacingAndGlyphs">官方样题FMT</text></g>
<g id="r4b"><rect class="lr" x="379" y="213.7" width="31" height="4.6"/><text class="t" x="379.8" y="217" textLength="29.4" lengthAdjust="spacingAndGlyphs">参考建模教材与练习题</text></g>
<g id="r1a"><rect class="lr" x="342" y="79.7" width="56" height="4.6"/><text class="t" x="342.8" y="83" textLength="54.4" lengthAdjust="spacingAndGlyphs">FMT考试约3小时，考察LBO及三表建模</text></g>
<g id="r1b"><rect class="lr" x="342" y="85.2" width="18" height="4.6"/><text class="t" x="342.8" y="88.5" textLength="16.4" lengthAdjust="spacingAndGlyphs">Excel熟练操作</text></g>
<g id="r1c"><rect class="lr" x="342" y="91.7" width="43" height="4.6"/><text class="t" x="342.8" y="95" textLength="41.4" lengthAdjust="spacingAndGlyphs">常用快捷键Alt+E+S+V需熟练</text></g>
<g id="r1d"><rect class="lr" x="342" y="97.7" width="28" height="4.6"/><text class="t" x="342.8" y="101" textLength="26.4" lengthAdjust="spacingAndGlyphs">熟悉INDEX/MATCH</text></g>
<g id="r1e"><rect class="lr" x="342" y="104.7" width="34" height="4.6"/><text class="t" x="342.8" y="108" textLength="32.4" lengthAdjust="spacingAndGlyphs">规范：输入蓝色、公式黑色</text></g>
<g id="r1f"><rect class="lr" x="342" y="110.7" width="36" height="4.6"/><text class="t" x="342.8" y="114" textLength="34.4" lengthAdjust="spacingAndGlyphs">避免硬编码，假设集中输入</text></g>
<g id="r1g"><rect class="lr" x="342" y="116.7" width="42" height="4.6"/><text class="t" x="342.8" y="120" textLength="40.4" lengthAdjust="spacingAndGlyphs">统一时间轴与单位（百万元）</text></g>
<g id="r1h"><rect class="lr" x="342" y="123.7" width="25" height="4.6"/><text class="t" x="342.8" y="127" textLength="23.4" lengthAdjust="spacingAndGlyphs">提前规划模型结构</text></g>
<g id="r2a"><rect class="lr" x="342" y="129.7" width="32" height="4.6"/><text class="t" x="342.8" y="133" textLength="30.4" lengthAdjust="spacingAndGlyphs">通读全题，标注关键假设</text></g>
<g id="r2b"><rect class="lr" x="342" y="135.5" width="51" height="8"/><text class="t"><tspan x="342.8" y="138.9">顺序：假设→利润表→现金流→资负表</tspan><tspan x="342.8" y="142.3">每一步完成后检查勾稽关系</tspan></text></g>
<g id="r2c"><rect class="lr" x="342" y="144.7" width="39" height="4.6"/><text class="t" x="342.8" y="148" textLength="37.4" lengthAdjust="spacingAndGlyphs">时间分配：建模70%、检查30%</text></g>
<g id="r2d"><rect class="lr" x="342" y="150.7" width="25" height="4.6"/><text class="t" x="342.8" y="154" textLength="23.4" lengthAdjust="spacingAndGlyphs">先保证模型平衡</text></g>
<g id="r2e"><rect class="lr" x="342" y="157.7" width="26" height="4.6"/><text class="t" x="342.8" y="161" textLength="24.4" lengthAdjust="spacingAndGlyphs">循环引用开迭代计算</text></g>
<g id="r2f"><rect class="lr" x="342" y="163.7" width="25" height="4.6"/><text class="t" x="342.8" y="167" textLength="23.4" lengthAdjust="spacingAndGlyphs">Circuit Breaker</text></g>
<g id="r2g"><rect class="lr" x="342" y="169.7" width="24" height="4.6"/><text class="t" x="342.8" y="173" textLength="22.4" lengthAdjust="spacingAndGlyphs">善用Trace追踪错误</text></g>
<g id="r2h"><rect class="lr" x="342" y="175.7" width="22" height="4.6"/><text class="t" x="342.8" y="179" textLength="20.4" lengthAdjust="spacingAndGlyphs">写明计算过程</text></g>
<g id="r3a"><rect class="lr" x="342" y="182.7" width="41" height="4.6"/><text class="t" x="342.8" y="186" textLength="39.4" lengthAdjust="spacingAndGlyphs">符号错误（现金流入/流出方向）</text></g>
<g id="r3b"><rect class="lr" x="342" y="188.7" width="10" height="4.6"/><text class="t" x="342.8" y="192" textLength="8.4" lengthAdjust="spacingAndGlyphs">单位错</text></g>
<g id="r3c"><rect class="lr" x="342" y="194.7" width="30" height="4.6"/><text class="t" x="342.8" y="198" textLength="28.4" lengthAdjust="spacingAndGlyphs">期初期末数值混淆</text></g>
<g id="r3d"><rect class="lr" x="342" y="201.7" width="29" height="4.6"/><text class="t" x="342.8" y="205" textLength="27.4" lengthAdjust="spacingAndGlyphs">资产负债表不平衡</text></g>
<g id="r3e"><rect class="lr" x="342" y="207.7" width="37" height="4.6"/><text class="t" x="342.8" y="211" textLength="35.4" lengthAdjust="spacingAndGlyphs">利息计算引起循环引用</text></g>

<g id="o1"><rect class="lo" x="325" y="282.7" width="11" height="4.6"/><text class="t" x="325.8" y="286" textLength="9.4" lengthAdjust="spacingAndGlyphs">交易假设</text></g>
<g id="o1a"><rect class="lo" x="343" y="249.7" width="45" height="4.6"/><text class="t" x="343.8" y="253" textLength="43.4" lengthAdjust="spacingAndGlyphs">资金来源与用途Sources &amp; Uses</text></g>
<g id="o1a1"><rect class="lo" x="394" y="223.7" width="8" height="4.6"/><text class="t" x="394.8" y="227" textLength="6.4" lengthAdjust="spacingAndGlyphs">要点</text></g>
<g id="o1a1a"><rect class="lo" x="407" y="223.7" width="23" height="4.6"/><text class="t" x="407.8" y="227" textLength="21.4" lengthAdjust="spacingAndGlyphs">两边金额必须相等</text></g>
<g id="o1a2"><rect class="lo" x="395" y="243.7" width="30" height="4.6"/><text class="tb" x="395.8" y="247" textLength="28.4" lengthAdjust="spacingAndGlyphs">1. 资金用途Uses</text></g>
<g id="o1a2a"><rect class="lo" x="437" y="230.7" width="38" height="4.6"/><text class="t" x="437.8" y="234" textLength="36.4" lengthAdjust="spacingAndGlyphs">收购股权Purchase Equity</text></g>
<g id="o1a2b"><rect class="lo" x="437" y="236.7" width="33" height="4.6"/><text class="t" x="437.8" y="240" textLength="31.4" lengthAdjust="spacingAndGlyphs">偿还原债务Refinance</text></g>
<g id="o1a2c"><rect class="lo" x="437" y="243.7" width="28" height="4.6"/><text class="t" x="437.8" y="247" textLength="26.4" lengthAdjust="spacingAndGlyphs">交易费用Transaction</text></g>
<g id="o1a2d"><rect class="lo" x="437" y="249.7" width="48" height="4.6"/><text class="t" x="437.8" y="253" textLength="46.4" lengthAdjust="spacingAndGlyphs">融资费用Financing Fees（摊销）</text></g>
<g id="o1a2e"><rect class="lo" x="437" y="255.7" width="41" height="4.6"/><text class="t" x="437.8" y="259" textLength="39.4" lengthAdjust="spacingAndGlyphs">最低现金需求Minimum Cash</text></g>
<g id="o1a3"><rect class="lo" x="395" y="274.7" width="38" height="4.6"/><text class="tb" x="395.8" y="278" textLength="36.4" lengthAdjust="spacingAndGlyphs">2. 资金来源Sources</text></g>
<g id="o1a3a"><rect class="lo" x="440" y="262.7" width="14" height="4.6"/><text class="t" x="440.8" y="266" textLength="12.4" lengthAdjust="spacingAndGlyphs">优先债务</text></g>
<g id="o1a3b"><rect class="lo" x="440" y="268.7" width="14" height="4.6"/><text class="t" x="440.8" y="272" textLength="12.4" lengthAdjust="spacingAndGlyphs">次级债务</text></g>
<g id="o1a3c"><rect class="lo" x="440" y="274.7" width="27" height="4.6"/><text class="t" x="440.8" y="278" textLength="25.4" lengthAdjust="spacingAndGlyphs">循环贷款Revolver</text></g>
<g id="o1a3d"><rect class="lo" x="440" y="281.7" width="52" height="4.6"/><text class="t" x="440.8" y="285" textLength="50.4" lengthAdjust="spacingAndGlyphs">发起人股权Sponsor Equity（倒挤得出）</text></g>
<g id="o1a3e"><rect class="lo" x="440" y="287.7" width="47" height="4.6"/><text class="t" x="440.8" y="291" textLength="45.4" lengthAdjust="spacingAndGlyphs">管理层滚存股权Management Rollover</text></g>
<g id="o1b"><rect class="lo" x="345" y="313.2" width="28" height="4.6"/><text class="tb" x="345.8" y="316.5" textLength="26.4" lengthAdjust="spacingAndGlyphs">2. 经营假设（难点）</text></g>
<g id="o1b1"><rect class="lo" x="378" y="294.7" width="10" height="4.6"/><text class="t" x="378.8" y="298" textLength="8.4" lengthAdjust="spacingAndGlyphs">增长率</text></g>
<g id="o1b2"><rect class="lo" x="378" y="300.7" width="38" height="4.6"/><text class="t" x="378.8" y="304" textLength="36.4" lengthAdjust="spacingAndGlyphs">EBITDA利润率Margin</text></g>
<g id="o1b3"><rect class="lo" x="378" y="306.7" width="32" height="4.6"/><text class="t" x="378.8" y="310" textLength="30.4" lengthAdjust="spacingAndGlyphs">营运资本周转天数</text></g>
<g id="o1b3a"><rect class="lo" x="416" y="305.5" width="56" height="8"/><text class="t"><tspan x="416.8" y="308.9">应收DSO、存货DIO、应付DPO天数，</tspan><tspan x="416.8" y="312.3">以收入或营业成本为基础计算</tspan></text></g>
<g id="o1b4"><rect class="lo" x="378" y="314.5" width="45" height="8"/><text class="t"><tspan x="378.8" y="317.9">资本性支出CapEx占收入比例，</tspan><tspan x="378.8" y="321.3">折旧按资产使用年限计算</tspan></text></g>
<g id="o1b5"><rect class="lo" x="378" y="324.7" width="25" height="4.6"/><text class="t" x="378.8" y="328" textLength="23.4" lengthAdjust="spacingAndGlyphs">税率Tax Rate 25%</text></g>
<g id="o1b6"><rect class="lo" x="378" y="332.7" width="8" height="4.6"/><text class="t" x="378.8" y="336" textLength="6.4" lengthAdjust="spacingAndGlyphs">其他</text></g>
<g id="o1b6a"><rect class="lo" x="392" y="331" width="41" height="8"/><text class="t"><tspan x="392.8" y="334.4">利率：优先债务8%、次级债务12%，</tspan><tspan x="392.8" y="337.8">按平均余额计息</tspan></text></g>
<g id="o2"><rect class="lo" x="325" y="357.2" width="50" height="4.6"/><text class="tb" x="325.8" y="360.5" textLength="48.4" lengthAdjust="spacingAndGlyphs">3. 资金来源用途表S&amp;U Sheet</text></g>
<g id="o2a"><rect class="lo" x="383" y="340.7" width="50" height="4.6"/><text class="t" x="383.8" y="344" textLength="48.4" lengthAdjust="spacingAndGlyphs">资金来源合计 = 资金用途合计</text></g>
<g id="o2b"><rect class="lo" x="383" y="347.9" width="52" height="11.2"/><text class="t m"><tspan x="383.8" y="350.4">企业价值EV = 入场倍数 × LTM EBITDA</tspan><tspan x="383.8" y="353.1">债务金额 = 杠杆倍数 × EBITDA</tspan><tspan x="383.8" y="355.8">股权价值 = 企业价值 - 净债务</tspan><tspan x="383.8" y="358.5">剩余部分由发起人股权补足</tspan></text></g>
<g id="o2c"><rect class="lo" x="383" y="361.7" width="35" height="4.6"/><text class="t" x="383.8" y="365" textLength="33.4" lengthAdjust="spacingAndGlyphs">商誉=收购价-净资产公允值</text></g>
<g id="o2d"><rect class="lo" x="383" y="369" width="52" height="14"/><text class="t m"><tspan x="383.8" y="371.5">编制交易后Pro Forma资产负债表：</tspan><tspan x="383.8" y="374.2">原有股权被注销，新增发起人股权；</tspan><tspan x="383.8" y="376.9">原有债务偿还，新增收购债务；</tspan><tspan x="383.8" y="379.6">融资费用资本化后按期摊销；</tspan><tspan x="383.8" y="382.3">交易费用冲减留存收益</tspan></text></g>
<g id="o3"><rect class="lo" x="325" y="389.2" width="32" height="4.6"/><text class="tb" x="325.8" y="392.5" textLength="30.4" lengthAdjust="spacingAndGlyphs">4. 债务结构Debt</text></g>
<g id="o3a"><rect class="lo" x="367" y="385.7" width="13" height="4.6"/><text class="t" x="367.8" y="389" textLength="11.4" lengthAdjust="spacingAndGlyphs">利率假设</text></g>
<g id="o3b"><rect class="lo" x="367" y="392.7" width="35" height="4.6"/><text class="t" x="367.8" y="396" textLength="33.4" lengthAdjust="spacingAndGlyphs">还款顺序：先优先后次级</text></g>

<g id="y1"><rect class="ly" x="332" y="402.7" width="26" height="4.6"/><text class="t" x="332.8" y="406" textLength="24.4" lengthAdjust="spacingAndGlyphs">IRR对入场倍数敏感</text></g>
<g id="y2"><rect class="ly" x="332" y="408.7" width="15" height="4.6"/><text class="t" x="332.8" y="412" textLength="13.4" lengthAdjust="spacingAndGlyphs">退出倍数</text></g>
<g id="y3"><rect class="ly" x="332" y="417.7" width="18" height="4.6"/><text class="t" x="332.8" y="421" textLength="16.4" lengthAdjust="spacingAndGlyphs">Data Table</text></g>
<g id="y3a"><rect class="ly" x="357" y="415.7" width="32" height="4.6"/><text class="t" x="357.8" y="419" textLength="30.4" lengthAdjust="spacingAndGlyphs">行列输入需在同一工作表</text></g>
<g id="y3b"><rect class="ly" x="357" y="421.7" width="18" height="4.6"/><text class="t" x="357.8" y="425" textLength="16.4" lengthAdjust="spacingAndGlyphs">结果标注单位</text></g>
<g id="y4"><rect class="ly" x="332" y="426.7" width="18" height="4.6"/><text class="t" x="332.8" y="430" textLength="16.4" lengthAdjust="spacingAndGlyphs">杠杆倍数变化</text></g>
<g id="y5"><rect class="ly" x="332" y="433.7" width="19" height="4.6"/><text class="t" x="332.8" y="437" textLength="17.4" lengthAdjust="spacingAndGlyphs">EBITDA增长率</text></g>

<g id="g1"><rect class="lg" x="337" y="444.7" width="56" height="4.6"/><text class="t" x="337.8" y="448" textLength="54.4" lengthAdjust="spacingAndGlyphs">投资建议Recommendation（是否值得投资）</text></g>
<g id="g2"><rect class="lg" x="337" y="453.7" width="40" height="4.6"/><text class="t" x="337.8" y="457" textLength="38.4" lengthAdjust="spacingAndGlyphs">总结关键收益驱动因素及风险</text></g>
<g id="g2a"><rect class="lg" x="382" y="449.7" width="30" height="4.6"/><text class="t" x="382.8" y="453" textLength="28.4" lengthAdjust="spacingAndGlyphs">收益驱动Value Drivers</text></g>
<g id="g2b"><rect class="lg" x="382" y="455.7" width="48" height="4.6"/><text class="t" x="382.8" y="459" textLength="46.4" lengthAdjust="spacingAndGlyphs">风险提示：杠杆过高、退出倍数下降</text></g>
<g id="g3"><rect class="lg" x="337" y="462.7" width="35" height="4.6"/><text class="t" x="337.8" y="466" textLength="33.4" lengthAdjust="spacingAndGlyphs">IRR与MOIC结果汇总</text></g>
<g id="g4"><rect class="lg" x="337" y="468.7" width="40" height="4.6"/><text class="t" x="337.8" y="472" textLength="38.4" lengthAdjust="spacingAndGlyphs">报告简洁、结论先行（金字塔）</text></g>
<g id="g5"><rect class="lg" x="337" y="474.7" width="42" height="4.6"/><text class="t" x="337.8" y="478" textLength="40.4" lengthAdjust="spacingAndGlyphs">图表展示Charts &amp; Tables</text></g>

<text x="250" y="731" text-anchor="middle" font-family="Noto Sans CJK SC, Noto Sans, sans-serif" font-size="3" fill="#c9c9c9">由思维导图工具生成</text>
</svg>
